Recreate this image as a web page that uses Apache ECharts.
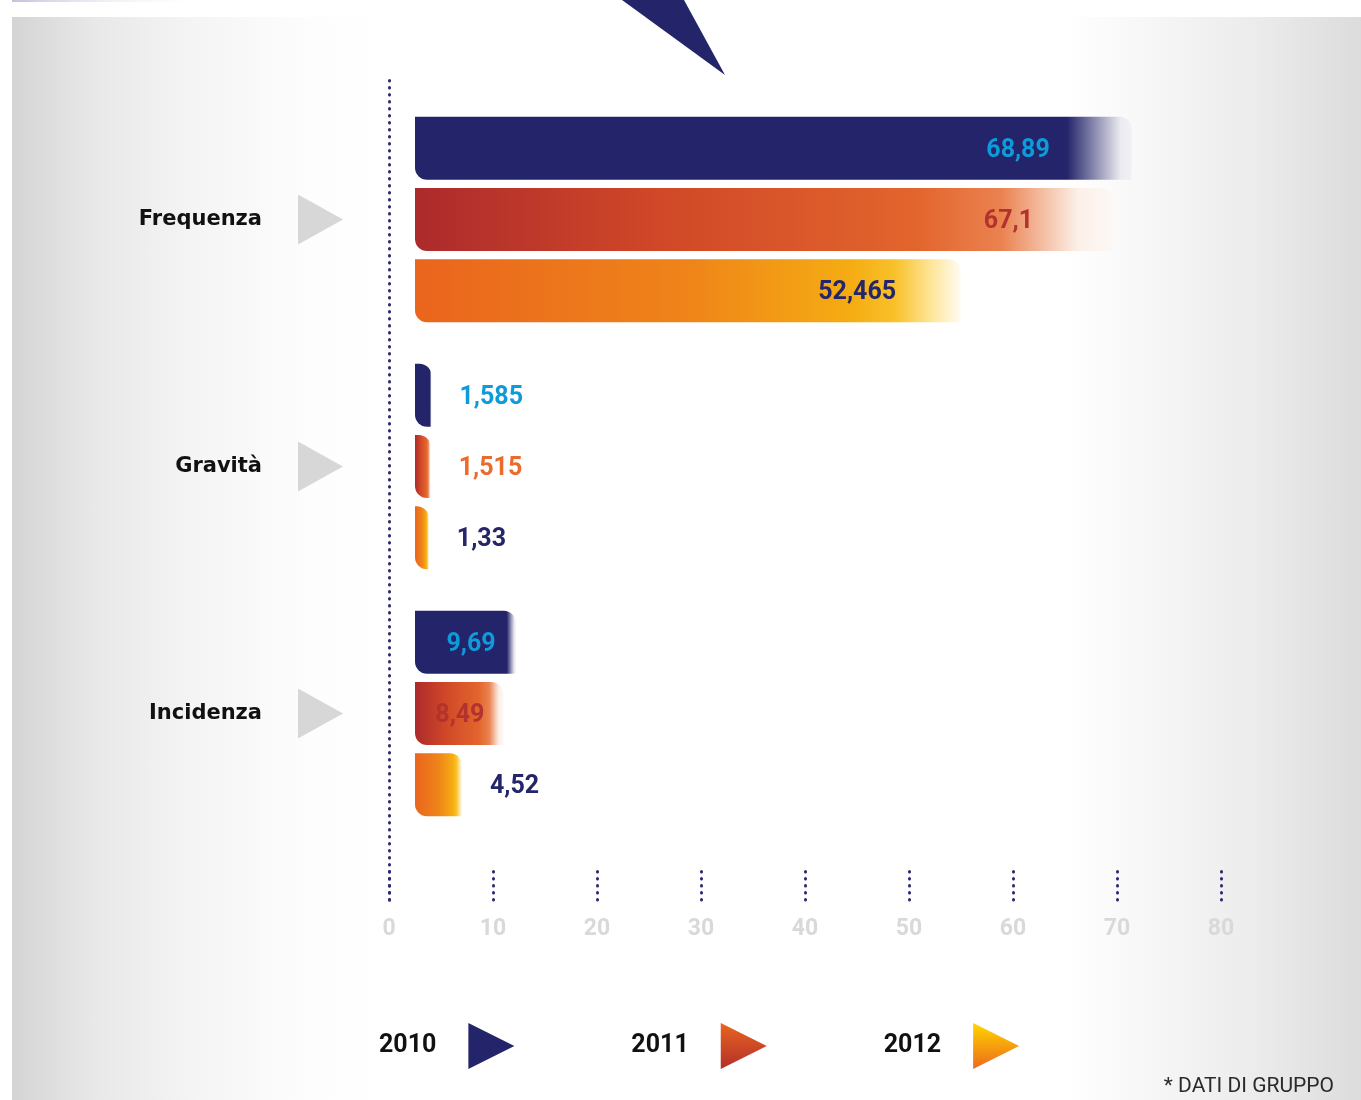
<!DOCTYPE html>
<html>
<head>
<meta charset="utf-8">
<script src="https://cdn.jsdelivr.net/npm/echarts@6/dist/echarts.min.js"></script>
<style>
  html, body { margin: 0; padding: 0; background: #fff; }
  #bg {
    position: absolute; left: 12px; top: 17px; width: 1349px; height: 1083px;
    background: linear-gradient(to right, #d4d4d4 0%, #e8e8e8 6%, #f5f5f5 14%, #fdfdfd 22%, #fff 28%, #fff 78%, #f7f7f7 84%, #ececec 92%, #dcdcdc 100%);
  }
  #chart { position: absolute; left: 0; top: 0; width: 1361px; height: 1100px; }
</style>
</head>
<body>
<div id="bg"></div>
<div id="chart"></div>
<script>
// dati
const categories = ['Frequenza', 'Gravità', 'Incidenza']
const years = ['2010', '2011', '2012']
const values2010 = [68.89, 1.585, 9.69]
const values2011 = [67.1, 1.515, 8.49]
const values2012 = [52.465, 1.33, 4.52]
const axisMax = 80
const axisStep = 10
const footnote = '* DATI DI GRUPPO'

const NAVY = '#24246a'
const numFont = 'Roboto, "DejaVu Sans Condensed", sans-serif'

const grad = (stops) => ({
  type: 'linear', x: 0, y: 0, x2: 1, y2: 0,
  colorStops: stops.map(s => ({ offset: s[0], color: s[1] }))
})
const vgrad = (top, bottom) => ({
  type: 'linear', x: 0, y: 0, x2: 0, y2: 1,
  colorStops: [{ offset: 0, color: top }, { offset: 1, color: bottom }]
})

const barColors = {
  '2010': grad([[0, NAVY], [0.91, NAVY], [0.985, '#ebebf1'], [1, '#f0f0f4']]),
  '2011': grad([[0, '#ad2a2d'], [0.35, '#d04827'], [0.72, '#e3652d'], [0.84, '#ea8250'], [0.95, '#fcf0e8'], [1, '#fcf8f5']]),
  '2012': grad([[0, '#ea651e'], [0.5, '#ef8419'], [0.8, '#f5ac12'], [0.88, '#f9c12a'], [0.95, '#fee7a0'], [1, '#fffbf2']])
}
const legendColors = {
  '2010': NAVY,
  '2011': vgrad('#e8651f', '#b32f2b'),
  '2012': vgrad('#ffd600', '#ec6a1c')
}
// colore etichetta: [dentro la barra, fuori]
const labelColors = {
  '2010': ['#0d9bd9', '#0d9bd9'],
  '2011': ['#b3322d', '#ec6a2a'],
  '2012': ['#25266a', '#25266a']
}

const fmt = v => String(v).replace('.', ',')

const makeSeries = (name, vals) => ({
  name,
  type: 'bar',
  xAxisIndex: 0,
  yAxisIndex: 0,
  barWidth: 63,
  barGap: '13%',
  itemStyle: { color: barColors[name], borderRadius: [0, 12, 0, 12] },
  data: vals.map(v => {
    const inside = v >= 5
    return {
      value: v,
      label: inside
        ? { show: true, position: ['90%', '50%'], align: 'right', verticalAlign: 'middle', offset: [-10, 2], color: labelColors[name][0] }
        : { show: true, position: 'right', distance: 28, offset: [0, 2], color: labelColors[name][1] }
    }
  }),
  label: {
    show: true,
    formatter: p => fmt(p.value),
    fontFamily: numFont,
    fontWeight: 'bold',
    fontSize: 25
  }
})

const triSvg = 'data:image/svg+xml;charset=utf-8,' + encodeURIComponent(
  "<svg xmlns='http://www.w3.org/2000/svg' width='45' height='50'><polygon points='0,0 45,25 0,50' fill='#d7d7d7'/></svg>"
)

const dotted = { color: '#2b2b70', width: 3, type: [0.5, 6.5], cap: 'round' }

const chart = echarts.init(document.getElementById('chart'))

chart.setOption({
  animation: false,
  title: {
    text: footnote,
    right: 27,
    bottom: 3,
    padding: 0,
    textStyle: { fontFamily: 'Roboto', fontWeight: 'normal', fontSize: 21, color: '#2a2a2a' }
  },
  legend: {
    left: 374,
    top: 1018,
    align: 'right',
    itemWidth: 46,
    itemHeight: 48,
    itemGap: 117,
    icon: 'path://M0,0L1,0.5L0,1Z',
    selectedMode: false,
    textStyle: { fontFamily: 'Roboto', fontWeight: 'bold', fontSize: 25, color: '#111', padding: [0, 27, 0, 0] },
    data: years.map(y => ({ name: y, itemStyle: { color: legendColors[y] } }))
  },
  grid: [
    { left: 415, top: 96, width: 832, height: 741 },
    { left: 389, top: 77, width: 832, height: 823 }
  ],
  xAxis: [
    { gridIndex: 0, type: 'value', min: 0, max: axisMax, show: false },
    {
      gridIndex: 1,
      type: 'value',
      min: 0,
      max: axisMax,
      interval: axisStep,
      axisLine: { show: false },
      splitLine: { show: false },
      axisTick: { show: true, inside: true, length: 30, lineStyle: dotted },
      axisLabel: { margin: 18, color: '#d9d9d9', fontFamily: numFont, fontWeight: 'bold', fontSize: 23 }
    }
  ],
  yAxis: [
    {
      gridIndex: 0,
      type: 'category',
      inverse: true,
      data: categories,
      axisLine: { show: false },
      axisTick: { show: false },
      axisLabel: {
        margin: 72,
        formatter: v => '{n|' + v + '}{t|}',
        rich: {
          n: { fontFamily: '"DejaVu Sans"', fontWeight: 'bold', fontSize: 21, color: '#111', padding: [0, 36, 0, 0], verticalAlign: 'middle' },
          t: { width: 45, height: 50, backgroundColor: { image: triSvg }, verticalAlign: 'middle' }
        }
      }
    },
    {
      gridIndex: 1,
      type: 'value',
      min: 0,
      max: 1,
      axisLine: { show: true, lineStyle: dotted },
      axisTick: { show: false },
      axisLabel: { show: false },
      splitLine: { show: false }
    }
  ],
  graphic: [
    { type: 'polygon', shape: { points: [[622, 0], [684, 0], [725, 75]] }, style: { fill: NAVY } },
    {
      type: 'rect', shape: { x: 12, y: 0, width: 200, height: 2 },
      style: { fill: grad([[0, '#c4c4dc'], [1, 'rgba(255,255,255,0)']]) }
    }
  ],
  series: [
    makeSeries('2010', values2010),
    makeSeries('2011', values2011),
    makeSeries('2012', values2012)
  ]
})

window.addEventListener('resize', () => chart.resize())
</script>
</body>
</html>
